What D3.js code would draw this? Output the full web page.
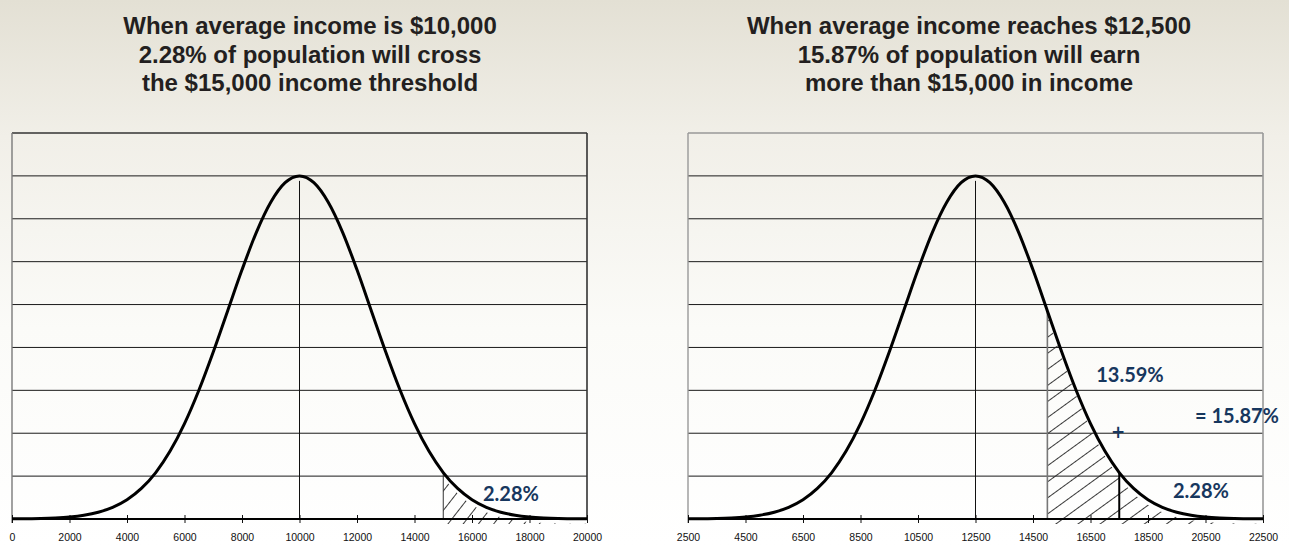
<!DOCTYPE html>
<html>
<head>
<meta charset="utf-8">
<script src="https://cdn.jsdelivr.net/npm/d3@7"></script>
<style>
    html, body { margin: 0; padding: 0; }
    body { width: 1289px; height: 546px; overflow: hidden; }
    svg { display: block; }
    .tick text { font-family: "Liberation Sans Narrow", "Liberation Sans", sans-serif; font-size: 10.5px; fill: #111; }
</style>
</head>
<body>
<svg id="charts" width="1289" height="546"></svg>
<script>

// distance from the average income, in $
const offsets = [-10000, -9500, -9000, -8500, -8000, -7500, -7000, -6500, -6000, -5500,
    -5000, -4500, -4000, -3500, -3000, -2500, -2000, -1500, -1000, -500, 0,
    500, 1000, 1500, 2000, 2500, 3000, 3500, 4000, 4500, 5000,
    5500, 6000, 6500, 7000, 7500, 8000, 8500, 9000, 9500, 10000];

// curve height in gridline units
const density = [0.003, 0.006, 0.012, 0.025, 0.048, 0.089, 0.159, 0.272, 0.449, 0.712,
    1.083, 1.583, 2.224, 3.002, 3.894, 4.852, 5.809, 6.685, 7.385, 7.841, 8.0,
    7.841, 7.385, 6.685, 5.809, 4.852, 3.894, 3.002, 2.224, 1.583, 1.083,
    0.712, 0.449, 0.272, 0.159, 0.089, 0.048, 0.025, 0.012, 0.006, 0.003];

const gridLevels = [1, 2, 3, 4, 5, 6, 7, 8];
const yMax = 9;

const leftTicks = [0, 2000, 4000, 6000, 8000, 10000, 12000, 14000, 16000, 18000, 20000];
const rightTicks = [2500, 4500, 6500, 8500, 10500, 12500, 14500, 16500, 18500, 20500, 22500];

const leftTitle = ["When average income is $10,000", "2.28% of population will cross", "the $15,000 income threshold"];
const rightTitle = ["When average income reaches $12,500", "15.87% of population will earn", "more than $15,000 in income"];

const leftMean = 10000, rightMean = 12500;
const threshold = 15000;
const twoSigma = 17500;


class BellChart {

    constructor(svg, opts) {
        this.svg = svg;
        this.o = opts;
    }

    draw() {
        const o = this.o;
        const g = this.svg.append("g");

        const x = d3.scaleLinear().domain(d3.extent(o.ticks)).range([o.left, o.right]);
        const y = d3.scaleLinear().domain([0, yMax]).range([o.bottom, o.top]);

        const pts = offsets.map((d, i) => ({ v: o.mean + d, h: density[i] }));
        const curveAt = v => pts.find(p => p.v === v).h;

        // title
        g.append("text")
            .attr("x", o.titleX)
            .attr("y", 34)
            .attr("text-anchor", "middle")
            .style("font-family", "Liberation Sans, Arial, sans-serif")
            .style("font-weight", "bold")
            .style("font-size", "24px")
            .style("fill", "#231f20")
            .selectAll("tspan")
            .data(o.title)
            .enter().append("tspan")
            .attr("x", o.titleX)
            .attr("dy", (d, i) => i === 0 ? 0 : 28.5)
            .text(d => d);

        // gridlines
        g.selectAll(".grid")
            .data(gridLevels)
            .enter().append("line")
            .attr("x1", o.left).attr("x2", o.right)
            .attr("y1", d => y(d)).attr("y2", d => y(d))
            .attr("stroke", "#1a1a1a")
            .attr("stroke-width", 1);

        // hatch pattern
        const pid = "hatch-" + o.id;
        this.svg.select("defs").append("pattern")
            .attr("id", pid)
            .attr("patternUnits", "userSpaceOnUse")
            .attr("width", o.hatchGap)
            .attr("height", o.hatchGap)
            .attr("patternTransform", "rotate(" + o.hatchAngle + ")")
            .append("line")
            .attr("x1", 0.5).attr("x2", 0.5)
            .attr("y1", 0).attr("y2", o.hatchGap)
            .attr("stroke", "#222")
            .attr("stroke-width", 0.9);

        const area = d3.area()
            .x(d => x(d.v))
            .y0(y(0))
            .y1(d => y(d.h))
            .curve(d3.curveMonotoneX);

        g.append("path")
            .datum(pts.filter(p => p.v >= threshold))
            .attr("d", area)
            .attr("transform", "translate(0,5)")
            .attr("fill", "url(#" + pid + ")");

        // markers at mean and thresholds
        g.append("line")
            .attr("x1", x(o.mean)).attr("x2", x(o.mean))
            .attr("y1", y(0)).attr("y2", y(curveAt(o.mean)) + 5)
            .attr("stroke", "#111").attr("stroke-width", 1);

        g.append("line")
            .attr("x1", x(threshold)).attr("x2", x(threshold))
            .attr("y1", y(0)).attr("y2", y(curveAt(threshold)))
            .attr("stroke", o.id === "right" ? "#777" : "#333")
            .attr("stroke-width", o.id === "right" ? 1.6 : 1);

        if (o.id === "right") {
            g.append("line")
                .attr("x1", x(twoSigma)).attr("x2", x(twoSigma))
                .attr("y1", y(0)).attr("y2", y(curveAt(twoSigma)))
                .attr("stroke", "#000").attr("stroke-width", 2);
        }

        // frame
        g.append("line")
            .attr("x1", o.left).attr("x2", o.right)
            .attr("y1", y(yMax)).attr("y2", y(yMax))
            .attr("stroke", o.frameTop).attr("stroke-width", 1.6);
        g.append("line")
            .attr("x1", o.right).attr("x2", o.right)
            .attr("y1", y(yMax)).attr("y2", y(0))
            .attr("stroke", o.frameTop).attr("stroke-width", 1.6);
        g.append("line")
            .attr("x1", o.left).attr("x2", o.left)
            .attr("y1", y(yMax)).attr("y2", y(0) + 4)
            .attr("stroke", o.frameSide).attr("stroke-width", 1.4);

        // x axis
        const xAxis = d3.axisBottom(x)
            .tickValues(o.ticks)
            .tickFormat(d3.format("d"))
            .tickSizeOuter(0)
            .tickSizeInner(4)
            .tickPadding(11);

        const ax = g.append("g")
            .attr("transform", "translate(0," + y(0) + ")")
            .call(xAxis);
        ax.select(".domain").remove();
        ax.selectAll(".tick line").attr("y1", -4).attr("y2", 4).attr("stroke", "#111");

        g.append("line")
            .attr("x1", o.left).attr("x2", o.right)
            .attr("y1", y(0)).attr("y2", y(0))
            .attr("stroke", "#000").attr("stroke-width", 2);

        // bell curve
        const line = d3.line()
            .x(d => x(d.v))
            .y(d => y(d.h))
            .curve(d3.curveMonotoneX);

        g.append("path")
            .datum(pts)
            .attr("d", line)
            .attr("fill", "none")
            .attr("stroke", "#000")
            .attr("stroke-width", 3)
            .attr("stroke-linejoin", "round");

        // annotations
        g.selectAll(".note")
            .data(o.notes)
            .enter().append("text")
            .attr("x", d => d.x)
            .attr("y", d => d.y)
            .attr("text-anchor", "middle")
            .attr("dominant-baseline", "central")
            .style("font-family", d => d.t === "+" ? "'DejaVu Sans', sans-serif" : "Lato, 'Open Sans', sans-serif")
            .style("font-weight", "bold")
            .style("font-size", d => d.size + "px")
            .style("fill", "#17375e")
            .text(d => d.t);
    }
}

function whenDocumentLoaded(action) {
    if (document.readyState === "loading") {
        document.addEventListener("DOMContentLoaded", action);
    } else {
        action();
    }
}

whenDocumentLoaded(() => {
    const svg = d3.select("#charts");
    const defs = svg.append("defs");

    const bg = defs.append("linearGradient")
        .attr("id", "bg")
        .attr("x1", 0).attr("y1", 0).attr("x2", 0).attr("y2", 1);
    bg.append("stop").attr("offset", "0%").attr("stop-color", "#e3e0d4");
    bg.append("stop").attr("offset", "25%").attr("stop-color", "#f1efe8");
    bg.append("stop").attr("offset", "60%").attr("stop-color", "#fbfbf8");
    bg.append("stop").attr("offset", "100%").attr("stop-color", "#ffffff");

    svg.append("rect")
        .attr("width", 1289).attr("height", 546)
        .attr("fill", "url(#bg)");

    new BellChart(svg, {
        id: "left",
        left: 12, right: 587, top: 133, bottom: 519,
        mean: leftMean, ticks: leftTicks, title: leftTitle, titleX: 310,
        frameTop: "#333", frameSide: "#7a7a7a",
        hatchGap: 12, hatchAngle: 38,
        notes: [{ t: "2.28%", x: 511, y: 493, size: 20 }]
    }).draw();

    new BellChart(svg, {
        id: "right",
        left: 688, right: 1263, top: 133, bottom: 519,
        mean: rightMean, ticks: rightTicks, title: rightTitle, titleX: 969,
        frameTop: "#999", frameSide: "#999",
        hatchGap: 13, hatchAngle: 54,
        notes: [
            { t: "13.59%", x: 1130, y: 374, size: 20 },
            { t: "+", x: 1118, y: 432, size: 17 },
            { t: "= 15.87%", x: 1237, y: 415, size: 20 },
            { t: "2.28%", x: 1201, y: 490, size: 20 }
        ]
    }).draw();
});
</script>
</body>
</html>
